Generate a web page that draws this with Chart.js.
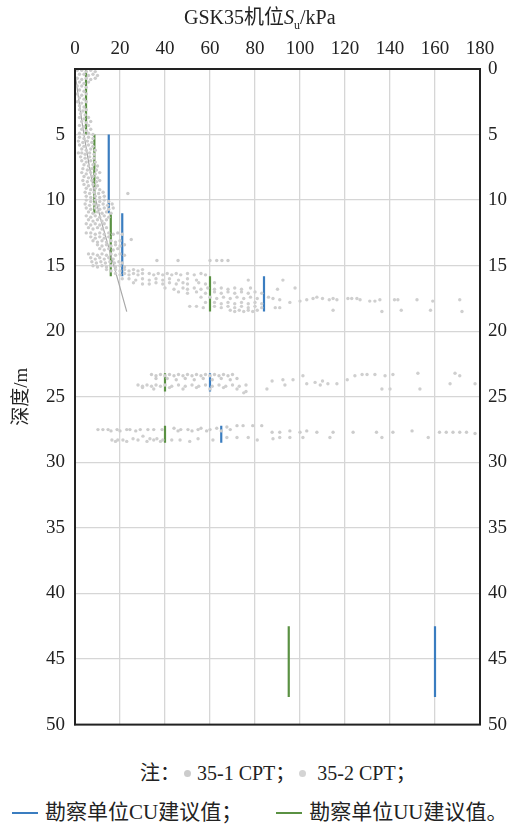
<!DOCTYPE html>
<html>
<head>
<meta charset="utf-8">
<script src="https://cdn.jsdelivr.net/npm/chart.js@4"></script>
<style>
  body { margin: 0; background: #fff; }
  #wrap { position: relative; width: 510px; height: 827px; font-family: "Liberation Serif", "Times New Roman", "Noto Sans CJK SC", serif; color: #222; }
  #chart { position: absolute; left: 0; top: 0; }
  .txt { position: absolute; white-space: nowrap; font-family: "Liberation Serif", "Times New Roman", "Noto Sans CJK SC", serif; }
  .dot { display: inline-block; width: 7px; height: 7px; border-radius: 50%; background: #cccccc; vertical-align: middle; margin: 0 6px 3px 4px; }
  .bar { display: inline-block; width: 26px; height: 2px; vertical-align: middle; margin: 0 7px 3px 0; }
</style>
</head>
<body>
<div id="wrap">
  <canvas id="chart" width="510" height="746"></canvas>
  <div class="txt" style="left:184px; top:5px; font-size:20px; line-height:24px;">GSK35机位<i>S</i><sub style="font-size:12px">u</sub>/kPa</div>
  <div class="txt" style="left:140px; top:761px; font-size:20px; line-height:24px;">注：<span class="dot"></span>35-1 CPT；<span class="dot" style="background:#d4d4d4"></span> 35-2 CPT；</div>
  <div class="txt" style="left:12px; top:799px; font-size:21px; line-height:26px;"><span class="bar" style="background:#3a7dc0"></span>勘察单位CU建议值；<span class="bar" style="background:#5a9143; margin-left:34px"></span>勘察单位UU建议值。</div>
</div>
<script>
"use strict";

// ----- data ----------------------------------------------------------------- //
// CPT points, [Su kPa, depth m]
const cpt1 = [
  [1,0.1],[3,0.1],[5,0.2],[7,0.1],[9,0.2],
  [2,0.4],[4,0.4],[6,0.5],[8,0.4],[10,0.5],
  [1,0.7],[3,0.8],[5,0.7],[7,0.8],[9,0.7],
  [2,1.0],[4,1.1],[6,1.0],
  [1,1.3],[3,1.3],[5,1.4],
  [2,1.6],[4,1.7],
  [1,1.9],[3,2.0],[5,1.9],
  [2,2.2],[4,2.3],
  [1,2.5],[3,2.6],[5,2.5],
  [2,2.8],[4,2.9],
  [2,3.1],[3.5,3.2],[5,3.1],
  [2.5,3.4],[4.5,3.5],
  [2,3.7],[4,3.8],[6,3.7],
  [3,4.0],[5,4.1],[7,4.0],
  [2,4.3],[4,4.4],[6,4.3],
  [3,4.6],[5,4.7],[7,4.6],
  [2,4.9],[4,5.0],[6,4.9],[8,5.0],
  [2,5.2],[4,5.3],[6,5.2],[8,5.3],
  [1.5,5.5],[3.5,5.6],[5.5,5.5],[7.5,5.6],
  [2,5.8],[4,5.9],[6,5.8],[8,5.9],
  [3,6.1],[5,6.2],[7,6.1],[9,6.2],
  [1.5,6.4],[3,6.4],[4.5,6.5],[6.5,6.4],[8.5,6.5],
  [2.5,6.7],[4.5,6.8],[6.5,6.7],[8.5,6.8],
  [3,7.0],[5,7.1],[7,7.0],[9,7.1],
  [4,7.3],[6,7.4],[8,7.3],[10,7.4],
  [3.5,7.6],[5.5,7.7],[7.5,7.6],[9.5,7.7],
  [3,7.9],[5,8.0],[7,7.9],[9,8.0],[11,7.9],
  [4,8.2],[6,8.3],[8,8.2],[10,8.3],
  [3.5,8.5],[5.5,8.6],[7.5,8.5],[9.5,8.6],[11,8.5],
  [4,8.8],[6,8.9],[8,8.8],[10,8.9],
  [5,9.1],[7,9.2],[9,9.1],[11,9.2],
  [4.5,9.4],[6.5,9.5],[8.5,9.4],[10.5,9.5],[12.5,9.4],[23.5,9.5],
  [5,9.7],[7,9.8],[9,9.7],[11,9.8],[13,9.7],
  [5,10.0],[7,10.1],[9,10.0],[11,10.1],[13,10.0],[15,10.1],
  [4.5,10.3],[6.5,10.4],[8.5,10.3],[10.5,10.4],[12.5,10.3],[14.5,10.4],[16.5,10.3],
  [5,10.6],[7,10.7],[9,10.6],[11,10.7],[13,10.6],[15,10.7],[17,10.6],
  [6,10.9],[8,11.0],[10,10.9],[12,11.0],[14,10.9],[16,11.0],
  [5,11.2],[7,11.3],[9,11.2],[11,11.3],[13,11.2],[15,11.3],
  [6,11.5],[8,11.6],[10,11.5],[12,11.6],[14,11.5],
  [5,11.8],[7,11.9],[9,11.8],[11,11.9],[13,11.8],
  [6,12.1],[8,12.2],[10,12.1],[12,12.2],[14,12.1],
  [5,12.5],[7,12.5],[9,12.6],[11,12.5],[13,12.6],[15,12.5],[17,12.6],[19,12.5],[21,12.6],
  [7,12.8],[9,12.9],[11,12.8],[13,12.9],[15,12.8],
  [8,13.1],[10,13.2],[12,13.1],[14,13.2],[16,13.1],[18,13.2],[20,13.1],[25,13.0],
  [10,13.4],[12,13.5],[14,13.4],[16,13.5],[18,13.4],[20,13.5],[22,13.4],
  [11,13.7],[13,13.8],[15,13.7],[17,13.8],[19,13.7],
  [6,14.1],[8,14.1],[10,14.2],[12,14.1],[14,14.2],[16,14.1],[18,14.2],[20,14.1],[22,14.2],
  [7,14.4],[9,14.5],[11,14.4],[13,14.5],[15,14.4],[17,14.5],
  [7.5,14.7],[9.5,14.8],[11.5,14.7],[13.5,14.8],[15.5,14.7],[17.5,14.8],[19.5,14.7],[21,14.8],
  [8,15.0],[10,15.1],[12,15.0],[14,15.1],[16,15.0],[18,15.1],[20,15.0],[22,15.1],
  [36.4,14.6],[45.8,14.6],[60,14.6],[63,14.6],[65.3,14.6],[68,14.6],
  [34,23.3],[36,23.4],[38,23.3],[40,23.4],[42,23.3],[44,23.4],[46,23.3],[48,23.4],[50,23.3],[52,23.4],
  [54,23.3],[56,23.4],[58,23.3],[60,23.4],[62,23.3],[64,23.4],[66,23.3],[68,23.4],[70,23.3],
  [36,23.6],[41,23.6],[45,23.7],[49,23.6],[53,23.7],[57,23.6],[61,23.7],[65,23.6],[69,23.7],[72,23.6],
  [10.2,27.5],[12.4,27.5],[14.7,27.5],[16,27.6],[18.7,27.5],[20,27.6],[23,27.5],[24.4,27.5],[27,27.6],
  [29,27.5],[32.4,27.5],[35,27.5],[38.7,27.5],[44,27.4],[45.8,27.6],[47,27.5],[50.2,27.5],[52,27.6],
  [54.7,27.5],[56,27.4],[58.5,27.6],[60,27.5],[63,27.4],[65,27.6],[67.5,27.3],[69,27.5],[72,27.2],
  [74.7,27.2],[79,27.2],[83,27.2],[87.6,27.7],[91,27.7],[95.5,27.6],[100,27.7],[103,27.6],[107.5,27.7],
  [114.7,27.7],[123.6,27.7],[134,27.7],[141.3,27.7],[149.8,27.6],[162,27.7],[165,27.7],[168,27.7],
  [171,27.7],[174,27.7],[177.8,27.8]
];

const cpt2 = [
  [14,15.3],[16,15.4],[18,15.3],[20,15.4],[22,15.3],[24,15.4],[26,15.3],[28,15.4],[30,15.3],
  [18,15.6],[20,15.7],[22,15.6],[24,15.7],[26,15.6],[28,15.7],[30,15.6],[33,15.6],[35,15.7],[37,15.6],
  [39,15.7],[41,15.6],[43,15.7],[45,15.6],[47,15.7],[50,15.6],[53,15.7],[56,15.6],[58,15.7],
  [21,16.0],[24,16.0],[27,16.1],[30,16.0],[33,16.1],[36,16.0],[39,16.1],[42,16.0],[46,16.1],[50,16.0],
  [54,16.1],[77,16.1],[92.4,16.1],
  [26,16.3],[30,16.4],[33,16.4],[36,16.3],[39,16.4],[42,16.3],[45,16.4],[48,16.3],[50,16.4],[55,16.3],
  [58,16.4],[62,16.3],
  [40,16.7],[44,16.8],[48,16.7],[50,16.8],[53,16.7],[56,16.8],[59,16.7],[62,16.8],[65,16.7],[68,16.8],
  [71,16.7],[74,16.8],[78,16.7],[90,16.8],[97.8,16.7],
  [46,17.0],[50,17.1],[54,17.0],[58,17.1],[62,17.0],[65,17.1],[68,17.0],[71,17.1],[74,17.0],[77,17.1],
  [80,17.0],[83,17.1],
  [56,17.4],[60,17.4],[63,17.5],[66,17.4],[69,17.5],[72,17.4],[75,17.5],[78,17.4],[81,17.5],[86,17.4],
  [88,17.5],[105.8,17.5],[107.5,17.4],[110,17.5],[113,17.6],[114.7,17.5],[116.4,17.6],[121.3,17.5],
  [123,17.5],[125.3,17.5],[126.7,17.6],[131,17.7],[133.3,17.7],[135.5,17.6],[142,17.6],[143.5,17.6],
  [152,17.6],[159,17.7],[171,17.6],
  [58,17.8],[62,17.8],[65,17.9],[68,17.8],[71,17.9],[74,17.8],[77,17.9],[80,17.8],[83,17.9],[91,17.6],
  [95.5,17.8],[100,17.7],[103,17.6],
  [51,18.1],[54,18.1],[57,18.2],[62,18.1],[65,18.2],[68,18.1],[71,18.2],[74,18.1],[77,18.2],[80,18.1],
  [83,18.2],[89,18.2],[91,18.2],
  [69,18.4],[71,18.5],[73,18.4],[75,18.5],[77,18.4],[79,18.5],[81,18.4],[114.7,18.4],[136.4,18.5],
  [145,18.4],[158,18.4],[172,18.5],
  [28,24.1],[30,24.2],[32,24.1],[34,24.2],[36,24.1],[38,24.2],[40,24.1],[43,24.2],[46,24.1],[49,24.2],
  [52,24.1],[55,24.2],[58,24.1],[61,24.2],[64,24.1],[67,24.2],[70,24.1],[73,24.2],[76,24.1],
  [30,24.3],[35,24.4],[42,24.3],[48,24.4],[54,24.3],[60,24.4],[66,24.3],[72,24.4],[75,24.7],[76,24.6],
  [87.6,23.8],[92.4,23.7],[93.3,24.1],[96.9,23.7],[101.3,23.4],[103,24.0],[106.7,23.9],[109,24.1],
  [110,23.8],[112.4,24.0],[116.4,24.0],[121,23.7],[124.4,23.4],[127.6,23.3],[129.8,23.3],[133.3,23.3],
  [137.8,23.4],[141.3,23.3],[136.4,24.4],[140,24.4],[152.4,23.2],[153.3,24.4],[166.7,24.0],[168.9,23.2],
  [171,23.4],[177.8,24.0],[85.3,24.4],
  [16.4,28.3],[18,28.4],[19,28.3],[21.3,28.3],[23,28.4],[25.8,28.2],[28,28.3],[30.2,28.0],[32,28.4],
  [33.3,28.2],[35,28.3],[36.4,28.2],[38,28.4],[39,28.3],[43,28.3],[46.7,28.3],[51,28.4],[54.7,28.2],
  [61.3,28.3],[67.5,28.1],[72,28.1],[77,28.1],[81,28.3],[88,28.2],[91,28.1],[95.5,28.1],[101.3,28.1],
  [113.3,28.1],[136.4,28.1],[157,28.1]
];

// grey guide line [Su, depth]
const trendLine = [[0,0.3],[4,5],[9.3,10],[16.3,14.4],[23,18.5]];

// CU suggested values: Su, top depth, bottom depth
const cuSu     = [15, 21, 84, 60, 65, 160];
const cuTop    = [5, 11, 15.8, 23.2, 27.2, 42.5];
const cuBottom = [11, 15.8, 18.5, 24.6, 28.5, 47.9];

// UU suggested values
const uuSu     = [4.9, 8.6, 15.9, 60, 40, 40, 95];
const uuTop    = [0, 5, 10.9, 15.8, 23.2, 27.2, 42.5];
const uuBottom = [5, 11, 15.8, 18.5, 24.6, 28.5, 47.9];

const xTicks = [0, 180, 20];   // min, max, step
const yTicks = [0, 50, 5];

const CU_COLOR = "#3a7dc0";
const UU_COLOR = "#5a9143";
const FAMILY = "Liberation Serif, Times New Roman, Noto Sans CJK SC, serif";
const FONT = { family: FAMILY, size: 19 };

Chart.defaults.font.family = FAMILY;
Chart.defaults.color = "#222";

// ----- datasets ------------------------------------------------------------- //
const toXY = arr => arr.map(p => ({ x: p[0], y: p[1] }));

function segments(su, top, bottom, color) {
  return su.map((v, i) => ({
    data: [{ x: v, y: top[i] }, { x: v, y: bottom[i] }],
    showLine: true, borderColor: color, borderWidth: 2.2,
    pointRadius: 0, fill: false,
  }));
}

const datasets = [
  { data: toXY(cpt1), pointRadius: 1.7, pointBorderWidth: 0, pointBackgroundColor: "#cccccc" },
  { data: toXY(cpt2), pointRadius: 1.7, pointBorderWidth: 0, pointBackgroundColor: "#cfcfcf" },
  { data: toXY(trendLine), showLine: true, borderColor: "#a8a8a8", borderWidth: 1.2, pointRadius: 0, tension: 0.3 },
  ...segments(cuSu, cuTop, cuBottom, CU_COLOR),
  ...segments(uuSu, uuTop, uuBottom, UU_COLOR),
];

// frame round the plot area (bottom edge has no axis)
const frame = {
  id: "frame",
  afterDraw(chart) {
    const a = chart.chartArea, c = chart.ctx;
    c.save();
    c.strokeStyle = "#222";
    c.lineWidth = 2;
    c.strokeRect(a.left, a.top, a.right - a.left, a.bottom - a.top);
    c.restore();
  },
};

const gridOpts = { color: "#d6d6d6", lineWidth: 1.3, drawTicks: false };
const borderOpts = { color: "#222", width: 2 };

// ----- boot ----------------------------------------------------------------- //
new Chart(document.getElementById("chart"), {
  type: "scatter",
  data: { datasets },
  options: {
    responsive: false,
    animation: false,
    layout: { padding: { bottom: 5 } },
    plugins: { legend: { display: false }, tooltip: { enabled: false } },
    scales: {
      x: {
        type: "linear", position: "top", min: xTicks[0], max: xTicks[1],
        ticks: { stepSize: xTicks[2], font: FONT, color: "#222", padding: 9 },
        grid: gridOpts, border: borderOpts,
        afterFit: s => { s.height = 69; },
      },
      y: {
        type: "linear", position: "left", reverse: true, min: yTicks[0], max: yTicks[1],
        ticks: { stepSize: yTicks[2], font: FONT, color: "#222", padding: 10,
                 callback: v => (v === 0 ? "" : v) },
        grid: gridOpts, border: borderOpts,
        title: { display: true, text: "深度/m", font: { family: FAMILY, size: 19 }, color: "#222", padding: { top: 11 } },
        afterFit: s => { s.width = 75; },
      },
      y2: {
        type: "linear", position: "right", reverse: true, min: yTicks[0], max: yTicks[1],
        ticks: { stepSize: yTicks[2], font: FONT, color: "#222", padding: 8 },
        grid: { display: false, drawTicks: false }, border: borderOpts,
        afterFit: s => { s.width = 30; },
      },
    },
  },
  plugins: [frame],
});
</script>
</body>
</html>
